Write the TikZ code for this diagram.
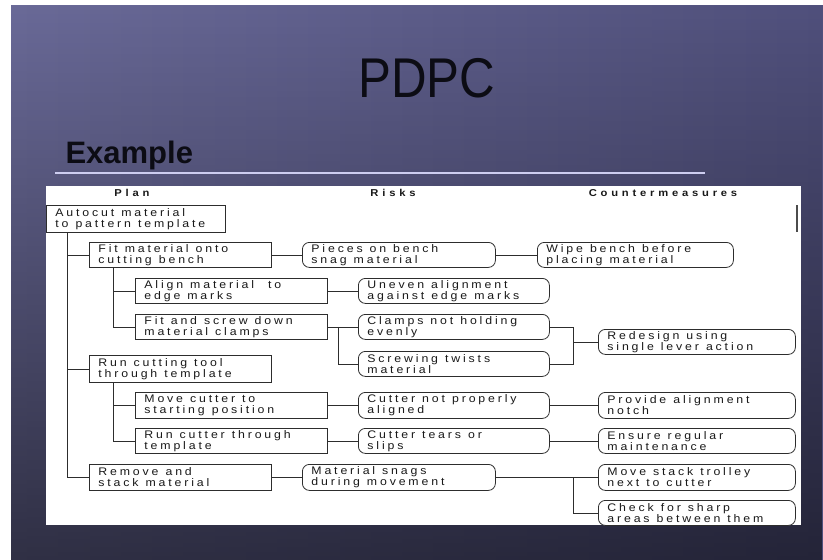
\documentclass[tikz,border=0pt]{standalone}
\usepackage{fontspec}
\setmainfont{Liberation Sans}
\newfontfamily\boxfont[FakeStretch=1.12,LetterSpace=26]{Liberation Sans}
\newfontfamily\headfont[FakeStretch=1.12,LetterSpace=38]{Liberation Sans}
\newfontfamily\titlefont[FakeStretch=0.88]{Liberation Sans}
\usetikzlibrary{calc,fadings}

\definecolor{bgA}{RGB}{106,106,152}
\definecolor{bgB}{RGB}{80,80,124}
\definecolor{linec}{RGB}{45,45,45}
\definecolor{txt}{RGB}{25,25,25}
\definecolor{rulec}{RGB}{205,205,240}
\definecolor{titlec}{RGB}{12,12,20}

\tikzset{
  box/.style={draw=linec, line width=0.8pt, fill=white, anchor=north west,
    inner xsep=9pt, inner ysep=0pt, align=left, text=txt,
    font=\boxfont\fontsize{11}{11}\selectfont,
    execute at begin node={\spaceskip=7pt plus 1pt minus 1pt\relax}},
  planbox/.style={box},
  riskbox/.style={box, rounded corners=7pt},
  link/.style={draw=linec, line width=0.8pt},
  colhead/.style={anchor=base, text=txt, font=\headfont\bfseries\fontsize{10}{11}\selectfont},
}

\begin{document}
\begin{tikzpicture}[x=1pt,y=-1pt]
\useasboundingbox (0,0) rectangle (823,560);
\fill[white] (0,0) rectangle (823,560);

% slide background
\fill[left color=bgA, right color=bgB] (11,5) rectangle (823,560);
\fill[black, opacity=0.55, path fading=north] (11,5) rectangle (823,560);

% title and subtitle
\node[anchor=base, text=titlec, font=\titlefont\fontsize{56}{60}\selectfont] (title) at (427,97) {PDPC};
\node[anchor=base west, text=titlec, font=\bfseries\fontsize{31}{34}\selectfont] (sub) at (62,163) {Example};
\draw[rulec, line width=2pt] (55,173) -- (705,173);

% white panel
\fill[white] (46,186) rectangle (801,525);
\draw[gray!60!black, line width=1.4pt] (797,205) -- (797,232);

% column headings
\node[colhead] (hplan) at (132,196) {Plan};
\node[colhead] (hrisk) at (393,196) {Risks};
\node[colhead] (hcm) at (663,196) {Countermeasures};

% plan column
\node[planbox, text width=161pt, minimum height=27pt] (p1) at (46,205) {Autocut material\\to pattern template};
\node[planbox, text width=164pt, minimum height=25pt] (p2) at (89,242) {Fit material onto\\cutting bench};
\node[planbox, text width=174pt, minimum height=25pt] (p3) at (135,278) {Align material \ to\\edge marks};
\node[planbox, text width=174pt, minimum height=25pt] (p4) at (135,314) {Fit and screw down\\material clamps};
\node[planbox, text width=164pt, minimum height=27pt] (p5) at (89,355) {Run cutting tool\\through template};
\node[planbox, text width=174pt, minimum height=26pt] (p6) at (135,392) {Move cutter to\\starting position};
\node[planbox, text width=174pt, minimum height=25pt] (p7) at (135,428) {Run cutter through\\template};
\node[planbox, text width=164pt, minimum height=26pt] (p8) at (89,464) {Remove and\\stack material};

% risks column
\node[riskbox, text width=175pt, minimum height=25pt] (r1) at (302,242) {Pieces on bench\\snag material};
\node[riskbox, text width=173pt, minimum height=25pt] (r2) at (358,278) {Uneven alignment\\against edge marks};
\node[riskbox, text width=173pt, minimum height=25pt] (r3) at (358,314) {Clamps not holding\\evenly};
\node[riskbox, text width=173pt, minimum height=25pt] (r4) at (358,351) {Screwing twists\\material};
\node[riskbox, text width=173pt, minimum height=26pt] (r5) at (358,392) {Cutter not properly\\aligned};
\node[riskbox, text width=173pt, minimum height=25pt] (r6) at (358,428) {Cutter tears or\\slips};
\node[riskbox, text width=175pt, minimum height=26pt] (r7) at (302,464) {Material snags\\during movement};

% countermeasures column
\node[riskbox, text width=178pt, minimum height=25pt] (c1) at (537,242) {Wipe bench before\\placing material};
\node[riskbox, text width=179pt, minimum height=25pt] (c2) at (598,329) {Redesign using\\single lever action};
\node[riskbox, text width=179pt, minimum height=26pt] (c3) at (598,392) {Provide alignment\\notch};
\node[riskbox, text width=179pt, minimum height=25pt] (c4) at (598,428) {Ensure regular\\maintenance};
\node[riskbox, text width=179pt, minimum height=26pt] (c5) at (598,464) {Move stack trolley\\next to cutter};
\node[riskbox, text width=179pt, minimum height=25pt] (c6) at (598,500) {Check for sharp\\areas between them};

% plan tree
\coordinate (ta) at ($(p1.south west)+(21,0)$);
\draw[link] (ta) |- (p2.west);
\draw[link] (ta) |- (p5.west);
\draw[link] (ta) |- (p8.west);
\coordinate (tb) at ($(p2.south west)+(24,0)$);
\draw[link] (tb) |- (p3.west);
\draw[link] (tb) |- (p4.west);
\coordinate (tc) at ($(p5.south west)+(24,0)$);
\draw[link] (tc) |- (p6.west);
\draw[link] (tc) |- (p7.west);

% plan to risks
\draw[link] (p2.east) -- (r1.west);
\draw[link] (p3.east) -- (r2.west);
\draw[link] (p4.east) -- (r3.west);
\coordinate (jb) at ($(p4.east)+(11,0)$);
\draw[link] (jb) |- (r4.west);
\draw[link] (p6.east) -- (r5.west);
\draw[link] (p7.east) -- (r6.west);
\draw[link] (p8.east) -- (r7.west);

% risks to countermeasures
\draw[link] (r1.east) -- (c1.west);
\coordinate (j1) at (573,0);
\draw[link] (r3.east) -| (j1 |- r4.east) -- (r4.east);
\draw[link] (j1 |- c2.west) -- (c2.west);
\draw[link] (r5.east) -- (c3.west);
\draw[link] (r6.east) -- (c4.west);
\draw[link] (r7.east) -- (c5.west);
\draw[link] (j1 |- r7.east) |- (c6.west);
\end{tikzpicture}
\end{document}
